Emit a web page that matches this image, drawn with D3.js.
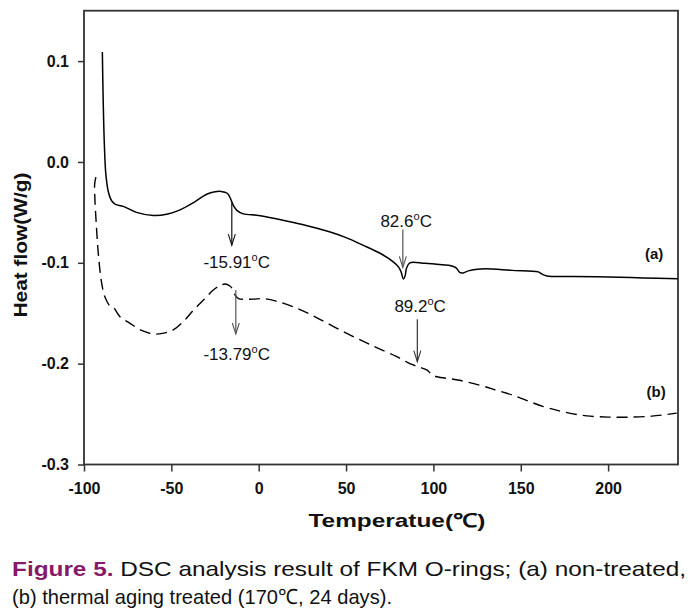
<!DOCTYPE html>
<html><head><meta charset="utf-8">
<script src="https://cdn.jsdelivr.net/npm/d3@7"></script>
<style>
body{margin:0;background:#fff;}
svg{display:block;}
text{font-family:"Liberation Sans",Arial,sans-serif;}
</style></head>
<body><svg id="c" width="698" height="612"></svg>
<script>
// ---- data ----
const xTicks = [-100, -50, 0, 50, 100, 150, 200];
const xTickLabels = ["-100", "-50", "0", "50", "100", "150", "200"];
const yTicks = [-0.3, -0.2, -0.1, 0.0, 0.1];
const yTickLabels = ["-0.3", "-0.2", "-0.1", "0.0", "0.1"];
// curve (a) non-treated : [temperature, heat flow]
const seriesA = [[-89.5,0.109],[-89.0,0.060],[-88.4,0.020],[-87.5,-0.012],[-86.0,-0.030],[-84.0,-0.039],[-82.0,-0.042],[-77.5,-0.044],[-70,-0.050],[-60.3,-0.053],[-52,-0.0515],[-45,-0.0475],[-37,-0.040],[-29.8,-0.032],[-25,-0.0295],[-21.5,-0.0292],[-18,-0.031],[-16.5,-0.035],[-14.5,-0.043],[-12.5,-0.048],[-8.8,-0.0515],[0,-0.053],[12,-0.057],[25,-0.062],[40,-0.069],[50,-0.075],[59,-0.082],[70,-0.091],[77,-0.099],[80,-0.104],[81.5,-0.109],[82.8,-0.116],[83.8,-0.113],[84.5,-0.106],[86.5,-0.100],[95,-0.1005],[105,-0.102],[110,-0.103],[113,-0.105],[115,-0.1095],[117,-0.110],[120,-0.108],[125,-0.1065],[130,-0.106],[145,-0.1075],[160,-0.109],[162,-0.111],[165,-0.113],[180,-0.1135],[200,-0.114],[220,-0.115],[240,-0.1158]];
// curve (b) thermal aging treated
const seriesB = [[-93.2,-0.015],[-93.9,-0.022],[-93.8,-0.035],[-93.1,-0.058],[-91.8,-0.091],[-89.9,-0.120],[-88.0,-0.134],[-85.1,-0.143],[-83,-0.1445],[-79.4,-0.1535],[-73.7,-0.160],[-67,-0.167],[-60.3,-0.1706],[-55,-0.170],[-48.9,-0.1666],[-43,-0.158],[-37.4,-0.147],[-31,-0.136],[-26,-0.127],[-22,-0.1225],[-19.3,-0.121],[-16.5,-0.123],[-15,-0.126],[-13.5,-0.132],[-11.5,-0.1355],[-8.8,-0.1362],[-3,-0.136],[2.6,-0.1355],[10,-0.138],[21.8,-0.145],[35,-0.156],[50.4,-0.170],[65,-0.182],[79,-0.1931],[86.6,-0.200],[92,-0.2035],[96.2,-0.2062],[98,-0.209],[99.5,-0.2115],[102,-0.213],[115,-0.2165],[130.6,-0.2234],[134.3,-0.2255],[145,-0.231],[163,-0.2426],[175,-0.248],[187.8,-0.2518],[200,-0.253],[210.7,-0.2531],[225,-0.252],[239.3,-0.2491]];
// annotations: arrow x, arrow from y1 to y2, label position
const annotations = [
  {x:-15.4, y1:-0.040, y2:-0.0825, lx:-12.6, ly:-0.1053, label:"-15.91", col:"#111"},
  {x:82.5, y1:-0.067, y2:-0.1045, lx:84.4, ly:-0.0645, label:"82.6", col:"#555"},
  {x:90.8, y1:-0.156, y2:-0.198, lx:92.4, ly:-0.1485, label:"89.2", col:"#333"},
  {x:-13.1, y1:-0.127, y2:-0.1706, lx:-12.6, ly:-0.1963, label:"-13.79", col:"#555"}
];
const curveLabels = [{x:226.3, y:-0.0963, t:"(a)"},{x:227.5, y:-0.233, t:"(b)"}];
const xTitle = "Temperatue(℃)";
const yTitle = "Heat flow(W/g)";
const captionBold = "Figure 5.";
const captionRest = " DSC analysis result of FKM O-rings; (a) non-treated,";
const caption2 = "(b) thermal aging treated (170℃, 24 days).";

// ---- chart ----
const svg = d3.select("#c");
const L = 84, R = 678, T = 10.7, B = 464.5;
const x = d3.scaleLinear().domain([-100, 240]).range([L, R]);
const y = d3.scaleLinear().domain([-0.3, 0.15]).range([B, T]);

const axisCol = "#333";
// y axis
const ya = svg.append("g").attr("transform", `translate(${L},0)`)
  .call(d3.axisLeft(y).tickValues(yTicks).tickSize(6).tickPadding(9)
    .tickFormat((d,i)=>yTickLabels[i]));
ya.select(".domain").remove();
ya.selectAll(".tick line").attr("stroke", axisCol).attr("stroke-width", 1.5);
ya.selectAll(".tick text").attr("font-size", 16).attr("font-weight", "bold")
  .attr("fill", "#111").attr("font-family", "Liberation Sans, Arial, sans-serif");
// x axis
const xa = svg.append("g").attr("transform", `translate(0,${B})`)
  .call(d3.axisBottom(x).tickValues(xTicks).tickSize(7).tickPadding(11)
    .tickFormat((d,i)=>xTickLabels[i]));
xa.select(".domain").remove();
xa.selectAll(".tick line").attr("stroke", axisCol).attr("stroke-width", 1.5);
xa.selectAll(".tick text").attr("font-size", 16).attr("font-weight", "bold")
  .attr("fill", "#111").attr("font-family", "Liberation Sans, Arial, sans-serif");

// frame
svg.append("rect").attr("x", L).attr("y", T).attr("width", R - L).attr("height", B - T)
  .attr("fill", "none").attr("stroke", axisCol).attr("stroke-width", 1.8);

// lines
const line = d3.line().x(d => x(d[0])).y(d => y(d[1])).curve(d3.curveCatmullRom.alpha(0.5));
svg.append("path").datum(seriesA).attr("d", line).attr("fill", "none")
  .attr("stroke", "#000").attr("stroke-width", 1.5);
svg.append("path").datum(seriesB).attr("d", line).attr("fill", "none")
  .attr("stroke", "#000").attr("stroke-width", 1.4).attr("stroke-dasharray", "11,6");

// annotations
annotations.forEach(a => {
  const ax = x(a.x), ay1 = y(a.y1), ay2 = y(a.y2);
  svg.append("line").attr("x1", ax).attr("x2", ax).attr("y1", ay1).attr("y2", ay2)
    .attr("stroke", a.col).attr("stroke-width", 1.2);
  svg.append("path").attr("d", `M${ax-3.5},${ay2-11}L${ax},${ay2}L${ax+3.5},${ay2-11}`)
    .attr("fill", "none").attr("stroke", a.col).attr("stroke-width", 1.1);
  const t = svg.append("text").attr("x", x(a.lx)).attr("y", y(a.ly))
    .attr("text-anchor", "middle").attr("font-size", 17).attr("fill", "#111");
  t.append("tspan").text(a.label);
  t.append("tspan").attr("dy", -7).attr("font-size", 11).text("o");
  t.append("tspan").attr("dy", 7).text("C");
});

curveLabels.forEach(c => {
  svg.append("text").attr("x", x(c.x)).attr("y", y(c.y)).attr("text-anchor", "middle")
    .attr("font-size", 15).attr("font-weight", "bold").attr("fill", "#111").text(c.t);
});

// axis titles
svg.append("text").attr("x", (L + R) / 2 + 16).attr("y", 527).attr("text-anchor", "middle")
  .attr("font-size", 19).attr("font-weight", "bold").attr("fill", "#111")
  .attr("textLength", 177).attr("lengthAdjust", "spacingAndGlyphs").text(xTitle);
svg.append("text").attr("transform", `translate(27,245) rotate(-90)`)
  .attr("text-anchor", "middle").attr("font-size", 19).attr("font-weight", "bold").attr("fill", "#111")
  .attr("textLength", 145).attr("lengthAdjust", "spacingAndGlyphs").text(yTitle);

// caption
const c1 = svg.append("text").attr("x", 12).attr("y", 576).attr("font-size", 21).attr("fill", "#111")
  .attr("textLength", 674).attr("lengthAdjust", "spacingAndGlyphs");
c1.append("tspan").attr("font-weight", "bold").attr("fill", "#861a6a").text(captionBold);
c1.append("tspan").text(captionRest);
svg.append("text").attr("x", 12).attr("y", 604).attr("font-size", 21).attr("fill", "#111")
  .attr("textLength", 380).attr("lengthAdjust", "spacingAndGlyphs").text(caption2);
</script></body></html>
